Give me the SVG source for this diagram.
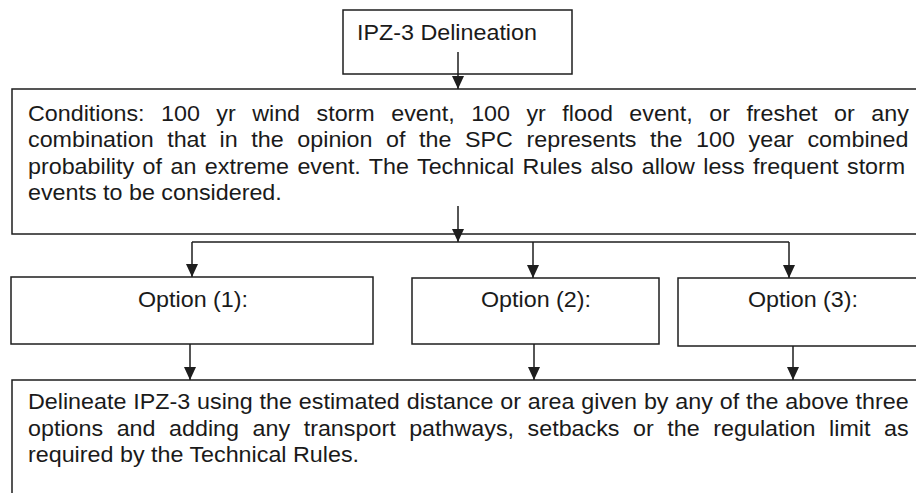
<svg xmlns="http://www.w3.org/2000/svg" width="916" height="493" viewBox="0 0 916 493">
<style>
.box{fill:#ffffff;stroke:#1e1e1e;stroke-width:1.5}
.c{fill:none;stroke:#1e1e1e;stroke-width:1.5}
.t{font-family:"Liberation Sans",Arial,sans-serif;font-size:21.5px;fill:#1a1a1a}
</style>
<defs>
<marker id="ah" markerUnits="userSpaceOnUse" viewBox="0 0 13 12" refX="13" refY="6" markerWidth="13" markerHeight="12" orient="auto">
<path d="M0,0 L13,6 L0,12 z" fill="#1e1e1e"/>
</marker>
</defs>
<rect width="916" height="493" fill="#ffffff"/>
<g id="n-title">
<rect class="box" x="343" y="10" width="229" height="64"/>
<text class="t" transform="translate(357,40) scale(1.084,1)">IPZ-3 Delineation</text>
</g>
<g id="n-conditions">
<rect class="box" x="12" y="89" width="930" height="145"/>
<text class="t" transform="translate(28,120.5) scale(1.084,1)" word-spacing="9.22">Conditions: 100 yr wind storm event, 100 yr flood event, or freshet or any</text>
<text class="t" transform="translate(28,147) scale(1.084,1)" word-spacing="6.57">combination that in the opinion of the SPC represents the 100 year combined</text>
<text class="t" transform="translate(28,173.5) scale(1.084,1)" word-spacing="1.82">probability of an extreme event. The Technical Rules also allow less frequent storm</text>
<text class="t" transform="translate(28,200) scale(1.084,1)">events to be considered.</text>
</g>
<g id="n-opt1">
<rect class="box" x="11" y="277" width="362" height="67"/>
<text class="t" transform="translate(138,307) scale(1.084,1)">Option (1):</text>
</g>
<g id="n-opt2">
<rect class="box" x="412" y="278" width="247" height="66"/>
<text class="t" transform="translate(481,307) scale(1.084,1)">Option (2):</text>
</g>
<g id="n-opt3">
<rect class="box" x="678" y="278" width="260" height="68"/>
<text class="t" transform="translate(748,307) scale(1.084,1)">Option (3):</text>
</g>
<g id="n-delineate">
<rect class="box" x="12" y="380" width="930" height="140"/>
<text class="t" transform="translate(28,409) scale(1.084,1)" word-spacing="0.36">Delineate IPZ-3 using the estimated distance or area given by any of the above three</text>
<text class="t" transform="translate(28,435.5) scale(1.084,1)" word-spacing="6.54">options and adding any transport pathways, setbacks or the regulation limit as</text>
<text class="t" transform="translate(28,462) scale(1.084,1)">required by the Technical Rules.</text>
</g>
<g id="connectors">
<path class="c" d="M458,52 V89" marker-end="url(#ah)"/>
<path class="c" d="M458,206 V242" marker-end="url(#ah)"/>
<path class="c" d="M192,242 H789"/>
<path class="c" d="M192,242 V277" marker-end="url(#ah)"/>
<path class="c" d="M533,242 V278" marker-end="url(#ah)"/>
<path class="c" d="M789,242 V278" marker-end="url(#ah)"/>
<path class="c" d="M190,344 V380" marker-end="url(#ah)"/>
<path class="c" d="M534,344 V380" marker-end="url(#ah)"/>
<path class="c" d="M793,346 V380" marker-end="url(#ah)"/>
</g>
</svg>
